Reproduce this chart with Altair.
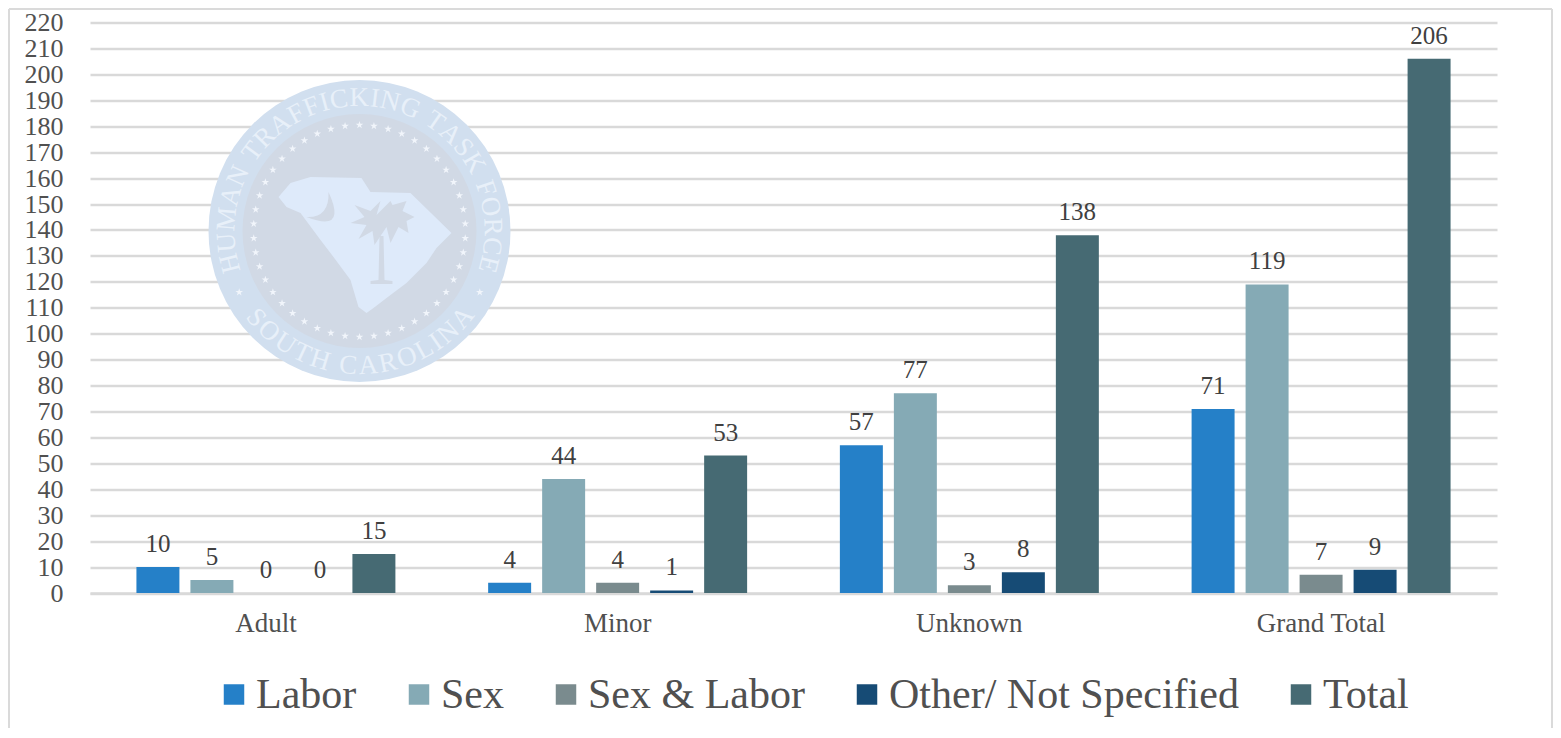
import math
import altair as alt
import pandas as pd

# ---- chart data ----
categories = ["Adult", "Minor", "Unknown", "Grand Total"]
series = ["Labor", "Sex", "Sex & Labor", "Other/ Not Specified", "Total"]
labor = [10, 4, 57, 71]
sex = [5, 44, 77, 119]
sex_labor = [0, 4, 3, 7]
other = [0, 1, 8, 9]
total = [15, 53, 138, 206]
colors = ["#2580C8", "#85AAB5", "#7A8B8E", "#164B75", "#466A73"]
y_ticks = list(range(0, 221, 10))

# ---- watermark seal ----
top_text = "HUMAN TRAFFICKING TASK FORCE"
bottom_text = "SOUTH CAROLINA"
widths = {"I": .35, " ": .3, "T": .62, "F": .58, "A": .72, "H": .72, "U": .72, "M": .88, "N": .72,
          "R": .66, "C": .66, "K": .72, "G": .72, "S": .56, "O": .72, "E": .61, "L": .61}
# outlines, px relative to the seal's centre
state_outline = [(-81, -34), (-69, -48), (-49, -54), (2, -53), (11, -39), (51, -38), (92, 2), (77, 17),
                 (67, 32), (47, 52), (31, 64), (14, 77), (7, 82), (-1, 76), (-9, 49), (-26, 26),
                 (-39, 9), (-59, -18), (-73, -24)]
frond_outline = [(21, -30), (17, -16), (29, -28), (31, -30), (33, -26), (47, -30), (43, -20), (55, -14),
                 (47, -10), (49, 2), (39, -4), (31, 12), (27, -4), (15, 14), (13, 0), (-1, 8),
                 (7, -6), (-9, -8), (5, -14), (-5, -26), (11, -20)]
CRESCENT = "M-31,-39Q-12,2 -53,-14Q-30,-13 -31,-39Z"
TRUNK = "M20,5L24,5L25,49L33,50L33,53L11,53L11,50L19,49Z"
STAR = "M0,-1L0.22,-0.31L0.95,-0.31L0.36,0.12L0.59,0.81L0,0.38L-0.59,0.81L-0.36,0.12L-0.95,-0.31L-0.22,-0.31Z"


def ring_letters(text, start, end, radius, flip):
    w = [widths[c] for c in text]
    span = sum(w) - w[0] / 2 - w[-1] / 2
    rows, pos = [], 0.0
    for i, c in enumerate(text):
        a = start + (end - start) * pos / span
        t = math.radians(a)
        if c != " ":
            rows.append({"ch": c, "px": cx + radius * math.sin(t), "py": cy - radius * math.cos(t),
                         "rot": ((a + 180) if flip else a) % 360})
        if i < len(text) - 1:
            pos += (w[i] + w[i + 1]) / 2
    return rows


W, H = 1407, 570.5
OX, OY = 90, 22.5
cx, cy = 359.5 - OX, 231 - OY


def path(points):
    return "M" + "L".join(f"{x},{y}" for x, y in points) + "Z"


def disc(r, color):
    return alt.Chart(pd.DataFrame({"a": [0]})).mark_arc(
        radius=r, theta=0, theta2=2 * math.pi, color=color, stroke=None
    ).encode(x=alt.value(cx), y=alt.value(cy))


def shape(d, color):
    return alt.Chart(pd.DataFrame({"a": [0]})).mark_point(
        shape=d, size=4, filled=True, color=color, opacity=1, strokeWidth=0
    ).encode(x=alt.value(cx), y=alt.value(cy))


letters = ring_letters(top_text, -104, 104.5, 133, False) + ring_letters(bottom_text, 230, 130, 135, True)
star_rows = [{"px": cx + 106 * math.sin(2 * math.pi * k / 46), "py": cy - 106 * math.cos(2 * math.pi * k / 46)}
             for k in range(46)]
star_rows += [{"px": cx + 135 * math.sin(math.radians(a)), "py": cy - 135 * math.cos(math.radians(a))}
              for a in (-117, 117)]

seal = [
    disc(151, "#D1DFEF"),
    disc(117, "#D1D9E5"),
    shape(path(state_outline), "#DEEAFA"),
    shape(CRESCENT, "#D1D9E5"),
    shape(path(frond_outline), "#D1D9E5"),
    shape(TRUNK, "#D1D9E5"),
    alt.Chart(pd.DataFrame(star_rows)).mark_point(
        shape=STAR, size=64, filled=True, color="#F1F5FB", opacity=1, strokeWidth=0,
        x=alt.expr("datum.px"), y=alt.expr("datum.py")
    ).encode(detail="px:Q"),
    alt.Chart(pd.DataFrame(letters)).mark_text(
        font="Liberation Serif", fontSize=27, color="#E8F0F9", baseline="middle", align="center",
        x=alt.expr("datum.px"), y=alt.expr("datum.py"), angle=alt.expr("datum.rot")
    ).encode(text="ch:N"),
]

# ---- long table ----
rows = []
for name, vals in zip(series, [labor, sex, sex_labor, other, total]):
    for c, v in zip(categories, vals):
        rows.append({"category": c, "series": name, "value": v})
df = pd.DataFrame(rows)

x_enc = alt.X("category:N", sort=categories, title=None,
              scale=alt.Scale(paddingInner=0.2637, paddingOuter=0.132),
              axis=alt.Axis(labelFont="Liberation Serif", labelFontSize=27, labelColor="#505050",
                            labelAngle=0, ticks=False, labelPadding=17, domainColor="#D9D9D9", domainWidth=2.5,
                            grid=False))
y_enc = alt.Y("value:Q", title=None, scale=alt.Scale(domain=[0, 220], nice=False),
              axis=alt.Axis(values=y_ticks, labelFont="Liberation Serif", labelFontSize=26, labelColor="#505050",
                            ticks=False, domain=False, labelPadding=27, gridColor="#D9D9D9", gridWidth=2.5,
                            labelOverlap=False, labelBaseline="middle"))
off = alt.XOffset("series:N", sort=series, scale=alt.Scale(paddingInner=0.204, paddingOuter=0))

bars = alt.Chart(df).mark_bar(stroke=None).encode(
    x=x_enc, xOffset=off, y=y_enc,
    color=alt.Color("series:N", sort=series, scale=alt.Scale(domain=series, range=colors), title=None,
                    legend=alt.Legend(orient="none", legendX=123, legendY=651, direction="horizontal", columns=5,
                                      symbolType="square", symbolSize=420, symbolStrokeWidth=0,
                                      labelFont="Liberation Serif", labelFontSize=42, labelColor="#505050",
                                      labelOffset=1, columnPadding=41, labelLimit=500)),
)
labels = alt.Chart(df).mark_text(font="Liberation Serif", fontSize=25, color="#404040", baseline="alphabetic",
                                 dy=-15).encode(x=x_enc, xOffset=off, y=y_enc, text="value:Q")

frame_color = "#DADADA"
frame = [
    alt.Chart(pd.DataFrame({"a": [0]})).mark_rule(color=frame_color, strokeWidth=2).encode(
        x=alt.value(-81), y=alt.value(-13.5), y2=alt.value(H + 135)),
    alt.Chart(pd.DataFrame({"a": [0]})).mark_rule(color=frame_color, strokeWidth=2).encode(
        x=alt.value(-81), x2=alt.value(W + 55), y=alt.value(-13.5)),
    alt.Chart(pd.DataFrame({"a": [0]})).mark_rule(color=frame_color, strokeWidth=2).encode(
        x=alt.value(W + 55), y=alt.value(-13.5), y2=alt.value(H + 135)),
]

chart = alt.layer(bars, *frame, *seal, labels).properties(
    width=W, height=H,
    autosize=alt.AutoSizeParams(type="none"),
    padding={"left": 82, "top": 14.5, "right": 56, "bottom": 135},
    background="white",
).configure_view(stroke=None)

chart.save("out.html", embed_options={"renderer": "svg", "actions": False})
